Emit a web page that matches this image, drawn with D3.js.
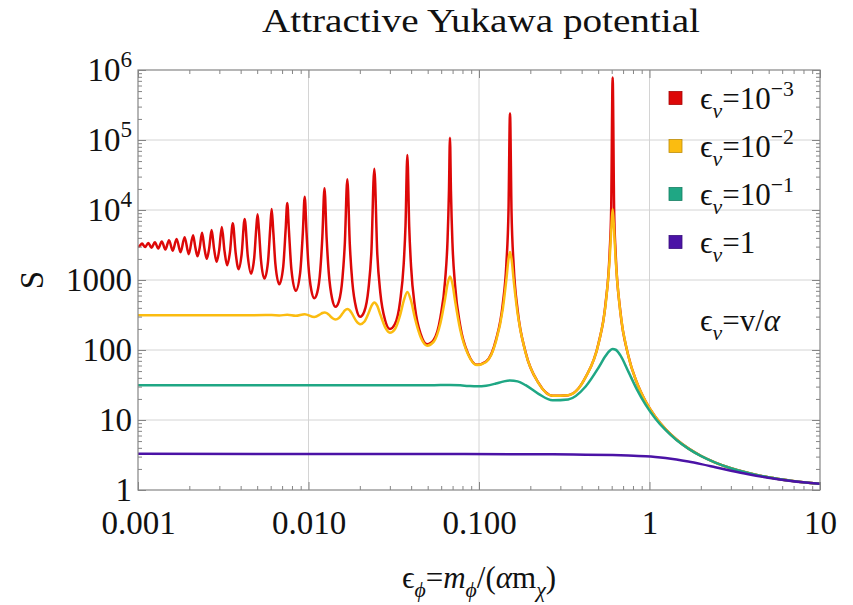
<!DOCTYPE html>
<html>
<head>
<meta charset="utf-8">
<script src="https://cdn.jsdelivr.net/npm/d3@7"></script>
<style>
  html, body { margin: 0; padding: 0; background: #fff; }
  svg { display: block; }
  text { font-family: "Liberation Serif", "DejaVu Serif", serif; fill: #111; }
</style>
</head>
<body>
<svg id="chart" width="853" height="605"></svg>
<script>
// ---- Axis ticks -------------------------------------------------------
const xTickValues = [0.001, 0.01, 0.1, 1, 10];
const xTickLabels = ["0.001", "0.010", "0.100", "1", "10"];
const yTickValues = [1, 10, 100, 1000, 1e4, 1e5, 1e6];
const yTickLabels = ["1", "10", "100", "1000", "10^4", "10^5", "10^6"];

// ---- Series: [epsilon_phi, S] ------------------------------------------
const legendLabels = ["10^−3", "10^−2", "10^−1", "1"];
const seriesColors = ["#dd0808", "#fbbc10", "#1fa784", "#4b13a6"];

const sRed = [
  [0.001, 3066], [0.001013, 3001], [0.001056, 3316], [0.001101, 2953], [0.001149, 3377],
  [0.001201, 2892], [0.001256, 3457], [0.001315, 2816], [0.001379, 3562], [0.001447, 2723],
  [0.00152, 3695], [0.001599, 2611], [0.001684, 3866], [0.001776, 2487], [0.001877, 4085],
  [0.001985, 2341], [0.002104, 4364], [0.002167, 2962], [0.002233, 2180], [0.002302, 2922],
  [0.002375, 4715], [0.002451, 2876], [0.002531, 2006], [0.002614, 2821], [0.002702, 5163],
  [0.002795, 2759], [0.002892, 1818], [0.002994, 2687], [0.003102, 5731], [0.003216, 2608],
  [0.003336, 1625], [0.003463, 2519], [0.003598, 6462], [0.00374, 2421], [0.003891, 1429],
  [0.004052, 2314], [0.004222, 7412], [0.004404, 2200], [0.004597, 1235], [0.004804, 2079],
  [0.004935, 5306], [0.005025, 8660], [0.005117, 5324], [0.005261, 1950], [0.005515, 1047],
  [0.005787, 1817], [0.00596, 5340], [0.00608, 10330], [0.006203, 5327], [0.006396, 1681],
  [0.006737, 868], [0.007106, 1543], [0.007342, 5189], [0.007506, 12610], [0.007676, 5133],
  [0.007941, 1405], [0.008415, 701], [0.008933, 1267], [0.009267, 4807], [0.0095, 15500],
  [0.009742, 4702], [0.009993, 1609], [0.01039, 713.5], [0.01081, 549.6], [0.01125, 660.5],
  [0.01173, 1399], [0.01206, 4192], [0.01241, 20400], [0.01277, 4044], [0.01315, 1262],
  [0.01375, 543.7], [0.01439, 414.5], [0.01508, 496.7], [0.01582, 1064], [0.01634, 3394],
  [0.01689, 27500], [0.01747, 3222], [0.01807, 937.9], [0.01905, 394.5], [0.0201, 297.7],
  [0.02124, 354.2], [0.02249, 760.4], [0.02338, 2523], [0.02432, 39000], [0.02532, 2351],
  [0.02639, 650.6], [0.02812, 268.1], [0.03002, 199.6], [0.03213, 234.8], [0.03447, 500.5],
  [0.03617, 1691], [0.03707, 5980], [0.038, 61000], [0.03897, 5741], [0.03997, 1537],
  [0.0421, 410.6], [0.04564, 165.5], [0.04963, 120.9], [0.05418, 139.3], [0.05938, 291.6],
  [0.06327, 984], [0.06536, 3626], [0.06666, 18897], [0.06756, 108000], [0.06847, 18566],
  [0.06986, 3406], [0.0723, 869], [0.07755, 224], [0.08658, 87.3], [0.09728, 61.7],
  [0.1101, 68.66], [0.1256, 138.3], [0.1379, 455.8], [0.1447, 1695], [0.149, 10215],
  [0.152, 240000], [0.1551, 9815], [0.1599, 1534], [0.1684, 373], [0.1877, 92.6],
  [0.2233, 33.85], [0.2702, 22.2], [0.3336, 22.66], [0.4222, 41.1], [0.5025, 125.1],
  [0.5515, 445], [0.5844, 2605], [0.596, 10118], [0.608, 780000], [0.6203, 9720],
  [0.6331, 2404], [0.6737, 364], [0.7506, 83.7], [0.8415, 34.6], [0.95, 18.28],
  [1.081, 11.1], [1.241, 7.389], [1.439, 5.253], [1.689, 3.928], [2.01, 3.061],
  [2.432, 2.468], [3.002, 2.049], [3.8, 1.746], [4.963, 1.523], [6.756, 1.357], [10, 1.226]
];

const sYellow = [
  [0.001, 314.2], [0.004222, 314.2], [0.00608, 315.3], [0.006737, 312.1], [0.007506, 317.9],
  [0.008415, 307.7], [0.0095, 325.4], [0.01081, 296.5], [0.01173, 323.7], [0.01206, 337.8],
  [0.01241, 344.1], [0.01277, 337.8], [0.01315, 319.8], [0.01375, 288.3], [0.01439, 273],
  [0.01508, 286.8], [0.01582, 331.5], [0.01634, 368.2], [0.01689, 386.8], [0.01747, 369.4],
  [0.01807, 324.5], [0.01905, 259.6], [0.0201, 232.6], [0.02124, 252.7], [0.02249, 335.5],
  [0.02338, 423.8], [0.02432, 478.6], [0.02532, 426.3], [0.02639, 320.7], [0.02812, 212.4],
  [0.03002, 176.7], [0.03213, 198.2], [0.03447, 314.4], [0.03617, 502.2], [0.038, 676.5],
  [0.03997, 500.8], [0.0421, 283.9], [0.04564, 149.6], [0.04963, 115.4], [0.05418, 130.6],
  [0.05938, 241], [0.06327, 538], [0.06536, 874], [0.06756, 1120], [0.06986, 881.7],
  [0.0723, 514], [0.07755, 196.6], [0.08658, 84.9], [0.09728, 60.9], [0.1101, 67.5],
  [0.1256, 131.5], [0.1379, 384], [0.1447, 1009], [0.149, 2005], [0.152, 2513],
  [0.1551, 2020], [0.1599, 966.6], [0.1684, 331.5], [0.1877, 90.5], [0.2233, 33.7],
  [0.2702, 22.18], [0.3336, 22.6], [0.4222, 40.96], [0.5025, 123.3], [0.5515, 424],
  [0.5844, 2051], [0.596, 5004], [0.608, 10300], [0.6203, 5004], [0.6331, 1956],
  [0.6737, 352.5], [0.7506, 83.5], [0.8415, 34.6], [0.95, 18.28], [1.081, 11.1],
  [1.241, 7.389], [1.439, 5.253], [1.689, 3.928], [2.01, 3.061], [2.432, 2.468],
  [3.002, 2.049], [3.8, 1.746], [4.963, 1.523], [6.756, 1.357], [10, 1.226]
];

const sGreen = [
  [0.001, 31.42], [0.04963, 31.41], [0.05938, 31.52], [0.06756, 31.56], [0.07755, 31.25],
  [0.08658, 30.71], [0.09728, 30.35], [0.1101, 30.95], [0.1256, 33.2], [0.1379, 35.34],
  [0.152, 36.73], [0.1684, 35.59], [0.1877, 31.41], [0.2233, 23.66], [0.2702, 19.16],
  [0.3336, 19.69], [0.4222, 30.14], [0.5025, 56.01], [0.5515, 81.9], [0.5844, 97.63],
  [0.608, 103.0], [0.6331, 100.85], [0.6737, 84.46], [0.7506, 49.53], [0.8415, 27.66],
  [0.95, 16.45], [1.081, 10.53], [1.241, 7.198], [1.439, 5.179], [1.689, 3.9],
  [2.01, 3.048], [2.432, 2.463], [3.002, 2.047], [3.8, 1.745], [4.963, 1.523],
  [6.756, 1.357], [10, 1.226]
];

const sPurple = [
  [0.001, 3.283], [0.02432, 3.278], [0.06756, 3.27], [0.152, 3.254], [0.2702, 3.23],
  [0.4222, 3.198], [0.608, 3.153], [0.7506, 3.111], [0.95, 3.032], [1.081, 2.963],
  [1.241, 2.865], [1.439, 2.729], [1.689, 2.552], [2.01, 2.342], [2.432, 2.113],
  [3.002, 1.885], [3.8, 1.676], [4.963, 1.4975], [6.756, 1.347], [10, 1.224]
];

const seriesData = [sRed, sYellow, sGreen, sPurple];

// ---- Layout -----------------------------------------------------------
const plot = { left: 138, right: 820, top: 70, bottom: 490 };
const frameColor = "#858585";
const gridColor = "#d4d4d4";

const svg = d3.select("#chart");
svg.append("rect").attr("width", 853).attr("height", 605).attr("fill", "#fff");

const x = d3.scaleLog().domain([0.001, 10]).range([plot.left, plot.right]);
const y = d3.scaleLog().domain([1, 1e6]).range([plot.bottom, plot.top]);

// minor tick positions: 2..9 within every decade
function minorTicks(lo, hi) {
  const out = [];
  for (let e = Math.round(Math.log10(lo)); e < Math.round(Math.log10(hi)); e++) {
    for (let k = 2; k <= 9; k++) out.push(k * Math.pow(10, e));
  }
  return out;
}
const xMinor = minorTicks(0.001, 10);
const yMinor = minorTicks(1, 1e6);

// sub/superscript text builder; base font size fs in px
function rich(textSel, parts, fs) {
  let shift = 0;
  parts.forEach(([s, kind]) => {
    const t = textSel.append("tspan").text(s);
    let target = 0;
    if (kind === "sb") { target = 0.28; t.attr("font-size", (fs * 0.7) + "px").attr("font-style", "italic"); }
    else if (kind === "sp") { target = -0.42; t.attr("font-size", (fs * 0.7) + "px"); }
    else if (kind === "i") { t.attr("font-style", "italic"); }
    if (target !== shift) t.attr("dy", ((target - shift) * fs) + "px");
    shift = target;
  });
}
function powerParts(label) {
  const [b, e] = label.split("^");
  return e ? [[b, "n"], [e, "sp"]] : [[b, "n"]];
}

// ---- Grid -------------------------------------------------------------
const grid = svg.append("g");
grid.selectAll("line.gx").data(xTickValues.slice(1, -1)).join("line")
  .attr("x1", d => x(d)).attr("x2", d => x(d))
  .attr("y1", plot.top).attr("y2", plot.bottom)
  .attr("stroke", gridColor).attr("stroke-width", 1);
grid.selectAll("line.gy").data(yTickValues.slice(1, -1)).join("line")
  .attr("y1", d => y(d)).attr("y2", d => y(d))
  .attr("x1", plot.left).attr("x2", plot.right)
  .attr("stroke", gridColor).attr("stroke-width", 1);

// ---- Curves -----------------------------------------------------------
svg.append("clipPath").attr("id", "plotClip").append("rect")
  .attr("x", plot.left).attr("y", plot.top - 2)
  .attr("width", plot.right - plot.left).attr("height", plot.bottom - plot.top + 2);

const line = d3.line()
  .x(d => x(d[0]))
  .y(d => y(d[1]))
  .curve(d3.curveMonotoneX);

svg.append("g").attr("clip-path", "url(#plotClip)")
  .selectAll("path").data(seriesData).join("path")
  .attr("d", d => line(d))
  .attr("fill", "none")
  .attr("stroke", (d, i) => seriesColors[i])
  .attr("stroke-width", 2.5)
  .attr("stroke-linejoin", "round");

// ---- Frame and ticks --------------------------------------------------
function styleAxis(g) {
  g.attr("color", frameColor);
  g.select(".domain").remove();
  g.selectAll(".tick line").attr("stroke-width", 1);
}
const labelFont = 33;

svg.append("g").attr("transform", `translate(0,${plot.bottom})`)
  .call(d3.axisBottom(x).tickValues(xTickValues).tickFormat((d, i) => xTickLabels[i])
    .tickSizeInner(-8).tickSizeOuter(0).tickPadding(21))
  .call(styleAxis)
  .call(g => g.selectAll("text").attr("font-size", labelFont + "px")
    .attr("font-family", "Liberation Serif, DejaVu Serif, serif").attr("fill", "#111"));
svg.append("g").attr("transform", `translate(0,${plot.bottom})`)
  .call(d3.axisBottom(x).tickValues(xMinor).tickFormat("").tickSizeInner(-4).tickSizeOuter(0))
  .call(styleAxis);
svg.append("g").attr("transform", `translate(0,${plot.top})`)
  .call(d3.axisTop(x).tickValues(xTickValues).tickFormat("").tickSizeInner(-8).tickSizeOuter(0))
  .call(styleAxis);
svg.append("g").attr("transform", `translate(0,${plot.top})`)
  .call(d3.axisTop(x).tickValues(xMinor).tickFormat("").tickSizeInner(-4).tickSizeOuter(0))
  .call(styleAxis);

const yAxisG = svg.append("g").attr("transform", `translate(${plot.left},0)`)
  .call(d3.axisLeft(y).tickValues(yTickValues).tickFormat("")
    .tickSizeInner(-8).tickSizeOuter(0).tickPadding(6))
  .call(styleAxis);
yAxisG.selectAll(".tick text")
  .attr("font-size", labelFont + "px")
  .attr("font-family", "Liberation Serif, DejaVu Serif, serif")
  .attr("fill", "#111")
  .each(function (d, i) { rich(d3.select(this), powerParts(yTickLabels[i]), labelFont); });
svg.append("g").attr("transform", `translate(${plot.left},0)`)
  .call(d3.axisLeft(y).tickValues(yMinor).tickFormat("").tickSizeInner(-4).tickSizeOuter(0))
  .call(styleAxis);
svg.append("g").attr("transform", `translate(${plot.right},0)`)
  .call(d3.axisRight(y).tickValues(yTickValues).tickFormat("").tickSizeInner(-8).tickSizeOuter(0))
  .call(styleAxis);
svg.append("g").attr("transform", `translate(${plot.right},0)`)
  .call(d3.axisRight(y).tickValues(yMinor).tickFormat("").tickSizeInner(-4).tickSizeOuter(0))
  .call(styleAxis);

svg.append("rect")
  .attr("x", plot.left).attr("y", plot.top)
  .attr("width", plot.right - plot.left).attr("height", plot.bottom - plot.top)
  .attr("fill", "none").attr("stroke", frameColor).attr("stroke-width", 1.2);

// ---- Legend -----------------------------------------------------------
const legend = svg.append("g");
legendLabels.forEach((lab, i) => {
  const cy = 98 + i * 48;
  legend.append("rect")
    .attr("x", 669).attr("y", cy - 6.5).attr("width", 13).attr("height", 13)
    .attr("fill", seriesColors[i])
    .attr("stroke", d3.color(seriesColors[i]).darker(0.8)).attr("stroke-width", 0.8);
  const t = legend.append("text").attr("x", 700).attr("y", cy + 11).attr("font-size", "31px");
  rich(t, [["ϵ", "n"], ["v", "sb"], ["=", "n"]].concat(powerParts(lab)), 31);
});

// ---- Labels -----------------------------------------------------------
svg.append("text")
  .attr("x", 481).attr("y", 32)
  .attr("text-anchor", "middle").attr("font-size", "33px")
  .attr("textLength", 438).attr("lengthAdjust", "spacingAndGlyphs")
  .text("Attractive Yukawa potential");

const note = svg.append("text")
  .attr("x", 740).attr("y", 331)
  .attr("text-anchor", "middle").attr("font-size", "31px");
rich(note, [["ϵ", "n"], ["v", "sb"], ["=v/", "n"], ["α", "i"]], 31);

const xTitle = svg.append("text")
  .attr("x", 479).attr("y", 588)
  .attr("text-anchor", "middle").attr("font-size", "31px");
rich(xTitle, [["ϵ", "n"], ["ϕ", "sb"], ["=", "n"], ["m", "i"], ["ϕ", "sb"], ["/(", "n"],
  ["α", "i"], ["m", "n"], ["χ", "sb"], [")", "n"]], 31);

svg.append("text")
  .attr("transform", "translate(43,280) rotate(-90)")
  .attr("text-anchor", "middle").attr("font-size", "33px")
  .text("S");
</script>
</body>
</html>
